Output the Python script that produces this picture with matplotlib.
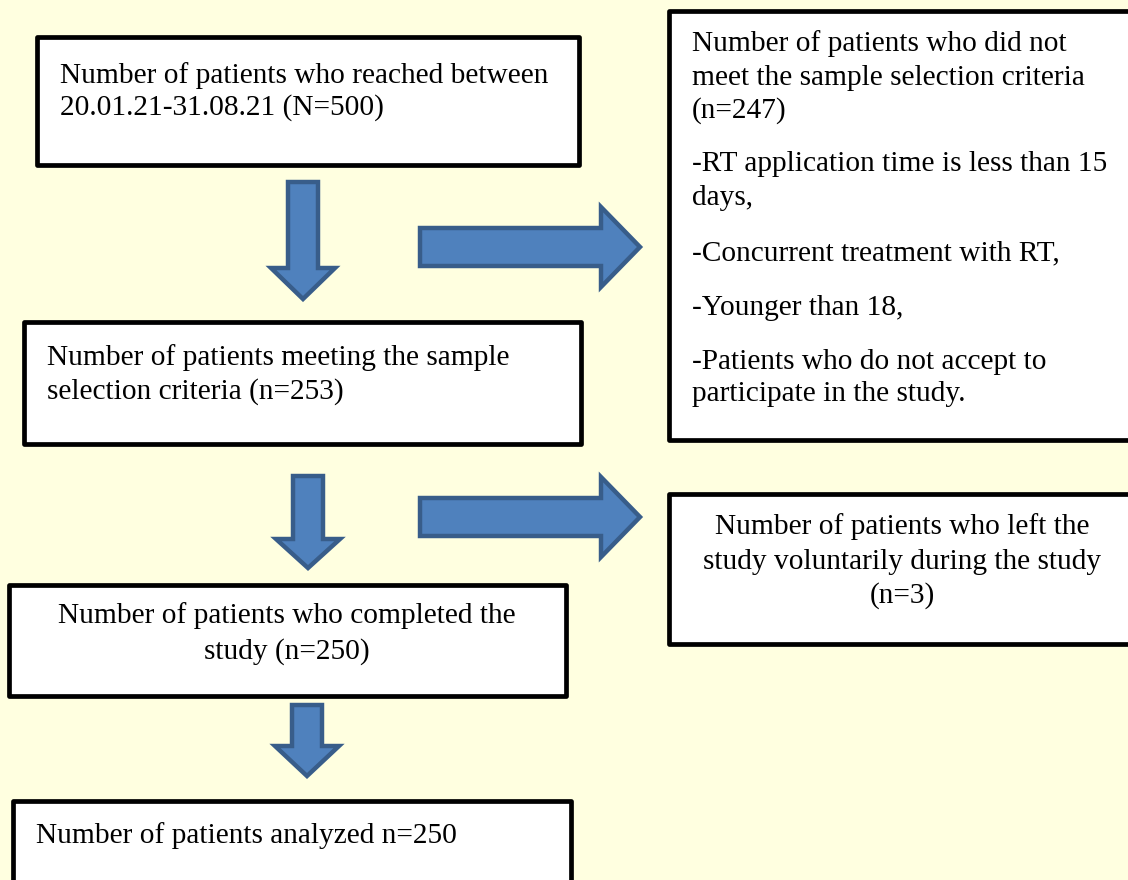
import matplotlib.pyplot as plt
from matplotlib.patches import Rectangle, Polygon

# texts of the flowchart boxes, one list of lines per box
box1_lines = ["Number of patients who reached between", "20.01.21-31.08.21 (N=500)"]
box2_lines = ["Number of patients who did not", "meet the sample selection criteria", "(n=247)",
              "-RT application time is less than 15", "days,",
              "-Concurrent treatment with RT,",
              "-Younger than 18,",
              "-Patients who do not accept to", "participate in the study."]
box3_lines = ["Number of patients meeting the sample", "selection criteria (n=253)"]
box4_lines = ["Number of patients who left the", "study voluntarily during the study", "(n=3)"]
box5_lines = ["Number of patients who completed the", "study (n=250)"]
box6_lines = ["Number of patients analyzed n=250"]

# layout in pixels (x0, y0, x1, y1), y going down
boxes = [(37, 37, 579, 165), (669, 11, 1140, 440), (24, 322, 581, 444),
         (669, 494, 1140, 644), (9, 585, 566, 696), (13, 801, 571, 900)]
line_y = [[76, 108], [44, 78, 111, 164, 198, 253, 308, 362, 394], [358, 392],
          [527, 562, 596], [616, 652], [836]]
text_x = [60, 692, 47, 902, 287, 36]
align = ["left", "left", "left", "center", "center", "left"]
all_lines = [box1_lines, box2_lines, box3_lines, box4_lines, box5_lines, box6_lines]

# arrows: shaft start, shaft end, tip, shaft half width, head half width, centre
down_arrows = [(182, 268, 299, 15, 32, 303), (476, 539, 568, 15, 32, 308), (705, 746, 776, 15, 32, 307)]
right_arrows = [(420, 601, 640, 19, 40, 247), (420, 601, 640, 19, 40, 517)]

bg = "#FFFFE0"
fill = "#4F81BD"
edge = "#385D8A"

fig = plt.figure(figsize=(11.28, 8.8), dpi=100)
fig.patch.set_facecolor(bg)
ax = fig.add_axes([0, 0, 1, 1])
ax.set_facecolor(bg)
ax.set_xlim(0, 1128)
ax.set_ylim(880, 0)
ax.axis("off")

for (x0, y0, x1, y1) in boxes:
    ax.add_patch(Rectangle((x0, y0), x1 - x0, y1 - y0, facecolor="white",
                           edgecolor="black", linewidth=3.4, joinstyle="round"))

for lines, ys, x, ha in zip(all_lines, line_y, text_x, align):
    for t, y in zip(lines, ys):
        ax.text(x, y, t, ha=ha, va="center", fontsize=21.2, family="Liberation Serif", color="black")

def down_arrow(top, base, tip, sw, hw, cx):
    pts = [(cx - sw, top), (cx + sw, top), (cx + sw, base), (cx + hw, base),
           (cx, tip), (cx - hw, base), (cx - sw, base)]
    return Polygon(pts, closed=True, facecolor=fill, edgecolor=edge, linewidth=3.2, joinstyle="miter")

def right_arrow(left, base, tip, sw, hw, cy):
    pts = [(left, cy - sw), (base, cy - sw), (base, cy - hw), (tip, cy),
           (base, cy + hw), (base, cy + sw), (left, cy + sw)]
    return Polygon(pts, closed=True, facecolor=fill, edgecolor=edge, linewidth=3.2, joinstyle="miter")

for a in down_arrows:
    ax.add_patch(down_arrow(*a))
for a in right_arrows:
    ax.add_patch(right_arrow(*a))

fig.savefig("out.png", dpi=100, facecolor=bg)
